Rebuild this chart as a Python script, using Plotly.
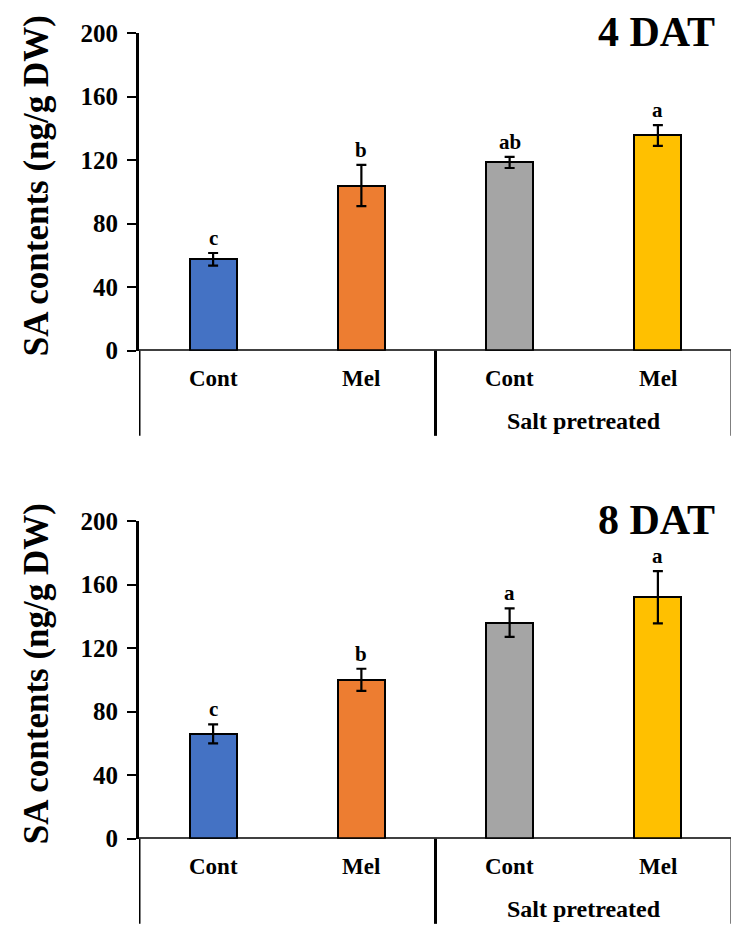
import plotly.graph_objects as go

categories = ["Cont", "Mel", "Cont", "Mel"]
group_label = "Salt pretreated"
colors = ["#4472C4", "#ED7D31", "#A5A5A5", "#FFC000"]

dat4_values = [57.5, 104, 118.5, 135.5]
dat4_errors = [4, 13, 3.5, 6.5]
dat4_letters = ["c", "b", "ab", "a"]

dat8_values = [66, 100, 136, 152]
dat8_errors = [6, 7, 9, 16.5]
dat8_letters = ["c", "b", "a", "a"]

panel_titles = ["4 DAT", "8 DAT"]
y_title = "SA contents (ng/g DW)"
y_ticks = [0, 40, 80, 120, 160, 200]

W, H = 739, 929
FONT = "Liberation Serif, Times New Roman, serif"

fig = go.Figure()
xpos = list(range(len(categories)))

panels = [
    (dat4_values, dat4_errors, dat4_letters, panel_titles[0], [1 - 342.7 / H, 1 - 25 / H]),
    (dat8_values, dat8_errors, dat8_letters, panel_titles[1], [1 - 830.7 / H, 1 - 513 / H]),
]
xdom = [131 / W, 724 / W]

for i, (vals, errs, letters, title, ydom) in enumerate(panels):
    n = "" if i == 0 else str(i + 1)
    xa, ya = "x" + n, "y" + n
    fig.add_trace(go.Bar(
        x=xpos, y=vals, width=0.317,
        marker=dict(color=colors, line=dict(color="black", width=2)),
        error_y=dict(type="data", array=errs, visible=True, color="black", thickness=2.2, width=5),
        xaxis=xa, yaxis=ya, showlegend=False, hoverinfo="skip",
    ))
    fig.update_layout(**{
        ("xaxis" + n): dict(
            domain=xdom, range=[-0.5, 3.5], showgrid=False, zeroline=False,
            showticklabels=False, ticks="", showline=False, anchor=ya, automargin=False,
        ),
        ("yaxis" + n): dict(
            domain=ydom, range=[0, 200], tickvals=y_ticks,
            ticktext=["<b>%d</b>" % t for t in y_ticks],
            showgrid=False, zeroline=False,
            showline=True, linecolor="black", linewidth=3, ticks="outside", ticklen=9,
            tickwidth=2, tickcolor="black", anchor=xa, automargin=False,
            tickfont=dict(family=FONT, size=25, color="black"), ticklabelstandoff=4,
        ),
    })
    # x-axis baseline at y=0 and group dividers
    fig.add_shape(type="line", xref=xa, yref=ya, x0=-0.5, x1=3.5, y0=0, y1=0,
                  line=dict(color="black", width=3))
    for xd in [-0.5, 1.5, 3.5]:
        fig.add_shape(type="line", xref=xa, yref=ya + " domain", x0=xd, x1=xd, y0=0, y1=-0.268,
                      line=dict(color="black", width=3))
    # category labels
    for xp, c in zip(xpos, categories):
        fig.add_annotation(x=xp, y=-0.086, xref=xa, yref=ya + " domain", text="<b>" + c + "</b>",
                           showarrow=False, font=dict(family=FONT, size=23, color="black"),
                           yanchor="middle")
    fig.add_annotation(x=2.5, y=-0.221, xref=xa, yref=ya + " domain", text="<b>" + group_label + "</b>",
                       showarrow=False, font=dict(family=FONT, size=24, color="black"),
                       yanchor="middle")
    # significance letters
    for xp, v, e, L in zip(xpos, vals, errs, letters):
        fig.add_annotation(x=xp, y=v + e, xref=xa, yref=ya, text="<b>" + L + "</b>",
                           showarrow=False, font=dict(family=FONT, size=21, color="black"),
                           yanchor="bottom", yshift=1)
    # panel title
    fig.add_annotation(x=3.4, y=1.0, xref=xa, yref=ya + " domain", text="<b>" + title + "</b>",
                       showarrow=False, font=dict(family=FONT, size=42, color="black"),
                       xanchor="right", yanchor="middle", yshift=1)
    # y-axis title
    fig.add_annotation(x=28 / W, y=(ydom[0] + ydom[1]) / 2 + 0.006, xref="paper", yref="paper",
                       text="<b>" + y_title + "</b>", textangle=-90, showarrow=False,
                       font=dict(family=FONT, size=35, color="black"),
                       xanchor="center", yanchor="middle")

fig.update_layout(
    width=W, height=H, margin=dict(l=0, r=0, t=0, b=0),
    paper_bgcolor="white", plot_bgcolor="white", bargap=0,
)

fig.write_html("out.html")
